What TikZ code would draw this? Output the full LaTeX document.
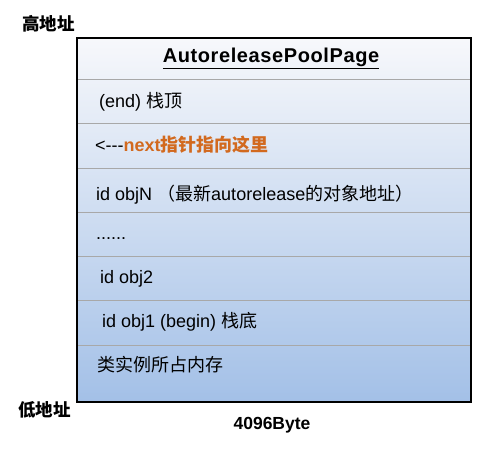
\documentclass[tikz,border=0pt]{standalone}
\usepackage{fontspec}
\setmainfont{Liberation Sans}
\newfontfamily\cjk{Noto Sans CJK SC}
\usetikzlibrary{positioning}
\definecolor{pagetop}{HTML}{F7F8FB}
\definecolor{pagebottom}{HTML}{A3C0E7}
\definecolor{nextorange}{HTML}{D2691E}
\definecolor{sepgray}{HTML}{A8A8A8}
\newcommand{\zh}[1]{{\cjk #1}}

\begin{document}
\begin{tikzpicture}[x=1pt,y=1pt,
    row text/.style={anchor=base west,inner sep=0pt,font=\fontsize{18}{21}\selectfont},
    addr text/.style={anchor=base west,inner sep=0pt,font=\bfseries\fontsize{17.5}{20}\selectfont},
    title text/.style={anchor=base,inner sep=0pt,font=\bfseries\fontsize{20}{24}\selectfont\addfontfeature{LetterSpace=3}},
    sep line/.style={draw=sepgray,line width=1pt}]
  \useasboundingbox (0,0) rectangle (492,448);
  % page body
  \shade[top color=pagetop,bottom color=pagebottom] (77,46) rectangle (471,410);
  \foreach \y in {368,325,280,236,192,148,103}
    \draw[sep line] (77,\y) -- (471,\y);
  \draw[line width=1.5pt] (77,46) rectangle (471,410);
  % rows
  \node[title text] (title) at (271,385) {\underline{AutoreleasePoolPage}};
  \node[row text] (endrow) at (99,340.5) {(end) \zh{栈顶}};
  \node[row text] (nextrow) at (95,297) {<-{}-{}-\textcolor{nextorange}{\bfseries next\zh{指针指向这里}}};
  \node[row text] (objnrow) at (96,248) {id objN \zh{（最新}autorelease\zh{的对象地址）}};
  \node[row text] (dotsrow) at (96,209) {......};
  \node[row text] (objtworow) at (100,165) {id obj2};
  \node[row text] (objonerow) at (102,121) {id obj1 (begin) \zh{栈底}};
  \node[row text] (classrow) at (97,77) {\zh{类实例所占内存}};
  % addresses
  \node[addr text] (highaddr) at (22,417) {\zh{高地址}};
  \node[addr text] (lowaddr) at (18,32) {\zh{低地址}};
  \node[addr text,anchor=base] (pagesize) at (272,19) {4096Byte};
\end{tikzpicture}
\end{document}
